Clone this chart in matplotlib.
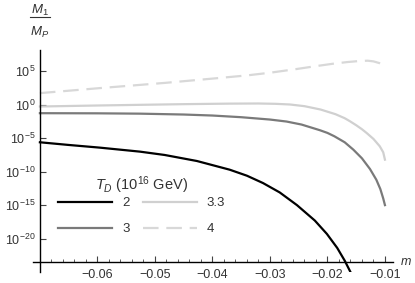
import numpy as np
import matplotlib
matplotlib.use("Agg")
import matplotlib.pyplot as plt
from matplotlib.lines import Line2D

plt.rcParams['font.family'] = ['Liberation Sans', 'DejaVu Sans']
plt.rcParams['mathtext.fontset'] = 'custom'
plt.rcParams['mathtext.rm'] = 'Liberation Sans'
plt.rcParams['mathtext.it'] = 'Liberation Sans:italic'
plt.rcParams['axes.unicode_minus'] = True

# m values and log10(M1/MP), one set per T_D
m_2 = [-0.0700, -0.0650, -0.0596, -0.0526, -0.0483, -0.0427, -0.0370, -0.0340,
       -0.0312, -0.0283, -0.0253, -0.0222, -0.0201, -0.0183, -0.0170, -0.0160]
log_2 = [-5.6, -6.0, -6.4, -7.0, -7.5, -8.4, -9.7, -10.6,
         -11.7, -13.1, -15.0, -17.3, -19.3, -21.4, -23.3, -25.0]

m_3 = [-0.0700, -0.0600, -0.0526, -0.0450, -0.0400, -0.0350, -0.0300, -0.0271,
       -0.0245, -0.0213, -0.0200, -0.0188, -0.0170, -0.0155, -0.0140, -0.0126,
       -0.0115, -0.0108, -0.0103, -0.0100]
log_3 = [-1.25, -1.27, -1.32, -1.45, -1.6, -1.85, -2.2, -2.5,
         -2.95, -3.8, -4.2, -4.7, -5.6, -6.7, -8.0, -9.6,
         -11.2, -12.6, -14.0, -15.0]

m_33 = [-0.0700, -0.0600, -0.0526, -0.0450, -0.0370, -0.0320, -0.0290, -0.0265,
        -0.0240, -0.0212, -0.0186, -0.0170, -0.0161, -0.0150, -0.0140, -0.0132,
        -0.0120, -0.0109, -0.0103, -0.0100]
log_33 = [-0.25, -0.1, 0.0, 0.1, 0.18, 0.2, 0.15, 0.05,
          -0.2, -0.7, -1.4, -2.0, -2.45, -3.05, -3.65, -4.2,
          -5.1, -6.2, -7.1, -8.2]

m_4 = [-0.0700, -0.0596, -0.0480, -0.0390, -0.0340, -0.0300, -0.0254, -0.0219,
       -0.0190, -0.0165, -0.0145, -0.0130, -0.0120, -0.0110, -0.0100]
log_4 = [1.75, 2.5, 3.3, 4.0, 4.4, 4.8, 5.35, 5.8,
         6.15, 6.4, 6.55, 6.6, 6.5, 6.25, 5.8]

labels = ["2", "3", "3.3", "4"]
ytick_exp = [5, 0, -5, -10, -15, -20]
xticks = [-0.06, -0.05, -0.04, -0.03, -0.02, -0.01]

W, H = 415, 283
fig = plt.figure(figsize=(W / 100, H / 100), dpi=100)
ax = fig.add_axes([33 / W, 11 / H, 360 / W, 222 / H])
ax.set_yscale('log')
ax.set_xlim(-0.0712, -0.0086)
ax.set_ylim(10 ** -25.0, 10 ** 8.2)

lw = 1.6
ax.plot(m_2, 10 ** np.array(log_2), color='black', lw=lw, label=labels[0])
ax.plot(m_3, 10 ** np.array(log_3), color='#7a7a7a', lw=lw, label=labels[1])
ax.plot(m_33, 10 ** np.array(log_33), color='#d0d0d0', lw=lw, label=labels[2])
ax.plot(m_4, 10 ** np.array(log_4), color='#d8d8d8', lw=lw, ls=(0, (7, 3.5)), label=labels[3])

for s in ['top', 'right']:
    ax.spines[s].set_visible(False)
ax.spines['left'].set_position(('data', -0.07))
ax.spines['bottom'].set_position(('data', 10 ** -23.5))
for s in ['left', 'bottom']:
    ax.spines[s].set_linewidth(1.0)
    ax.spines[s].set_color('black')

ax.set_yticks([10.0 ** e for e in ytick_exp])
ax.set_yticklabels([r'$10^{%d}$' % e for e in ytick_exp])
ax.yaxis.set_minor_locator(matplotlib.ticker.NullLocator())
ax.set_xticks(xticks)
ax.set_xticklabels(['\u2212%.2f' % abs(v) for v in xticks])
ax.set_xticks(np.arange(-0.070, -0.0089, 0.002), minor=True)
ax.tick_params(axis='both', which='major', direction='in', length=4, width=0.8,
               labelsize=9, labelcolor='#333333', color='#444444')
ax.tick_params(axis='x', which='major', pad=5)
ax.tick_params(axis='y', which='major', pad=3)
ax.tick_params(axis='x', which='minor', direction='in', length=2, width=0.6, color='#444444')

fig.text(400 / W, 1 - 262 / H, r'$m$', fontsize=9, color='#333333', va='center', ha='left')
fig.text(40 / W, 1 - 10 / H, r'$M_1$', fontsize=9.5, color='#333333', ha='center', va='center')
fig.add_artist(Line2D([30 / W, 50 / W], [1 - 16.5 / H, 1 - 16.5 / H], color='#333333', lw=0.8))
fig.text(40 / W, 1 - 32 / H, r'$M_P$', fontsize=9.5, color='#333333', ha='center', va='center')

fig.text(141.5 / W, 1 - 185 / H, r'$T_D$ (10$^{16}$ GeV)', fontsize=10.5, color='#333333',
         ha='center', va='center')
leg = ax.legend(ncol=2, frameon=False, fontsize=9.5,
                handlelength=4.1, handletextpad=0.75, columnspacing=1.0,
                labelspacing=1.05, borderpad=0, borderaxespad=0,
                loc='upper left', bbox_to_anchor=(58 / W, 1 - 197 / H),
                bbox_transform=fig.transFigure)
for t in leg.get_texts():
    t.set_color('#333333')

fig.savefig('out.png', dpi=100)
